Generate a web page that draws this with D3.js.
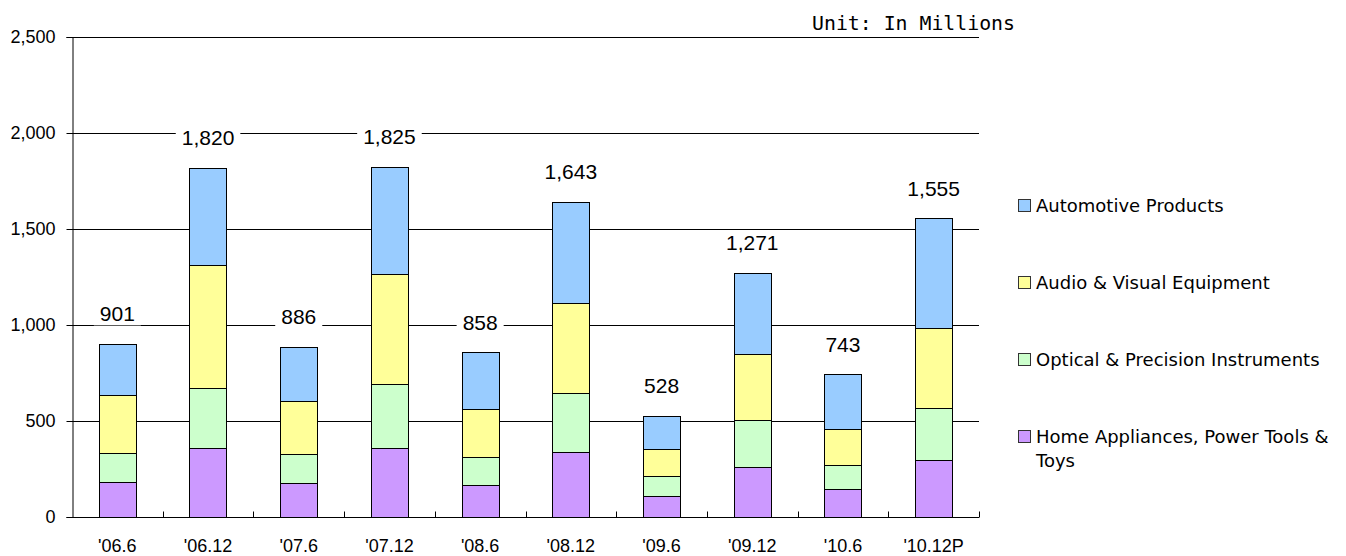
<!DOCTYPE html>
<html>
<head>
    <title>Sales by Product Category</title>
    <script src="https://d3js.org/d3.v7.min.js"></script>
    <style>
        body {
            margin: 0;
            background: #fff;
        }
        svg text {
            font-family: "Liberation Sans", Arial, sans-serif;
            fill: #000;
        }
    </style>
</head>
<body>
    <div id="chart"></div>
    <script>
        // Half-year periods
        const periods = ["'06.6", "'06.12", "'07.6", "'07.12", "'08.6", "'08.12", "'09.6", "'09.12", "'10.6", "'10.12P"];

        // Series values, bottom to top (in millions)
        const homeAppliances = [181, 359, 175, 358, 167, 340, 109, 259, 144, 297];
        const optical = [151, 315, 153, 335, 147, 306, 105, 246, 127, 269];
        const audioVisual = [303, 637, 276, 571, 250, 470, 140, 346, 189, 420];
        const automotive = [266, 509, 282, 561, 294, 527, 174, 420, 283, 569];

        const totals = [901, 1820, 886, 1825, 858, 1643, 528, 1271, 743, 1555];

        const seriesNames = ['Home Appliances, Power Tools & Toys', 'Optical & Precision Instruments',
            'Audio & Visual Equipment', 'Automotive Products'];
        const seriesColors = ['#cc99ff', '#ccffcc', '#ffff99', '#99ccff'];
        const yTicks = [0, 500, 1000, 1500, 2000, 2500];

        const width = 1346, height = 556;
        const margin = { left: 72, right: 367, top: 37, bottom: 39 };

        const svg = d3.select('#chart').append('svg')
            .attr('width', width)
            .attr('height', height);

        const x = d3.scaleBand()
            .domain(periods)
            .range([margin.left, width - margin.right])
            .padding(0);

        const y = d3.scaleLinear()
            .domain([0, 2500])
            .range([height - margin.bottom, margin.top]);

        const barWidth = x.bandwidth() * 0.41;

        // build table for the stack
        const table = periods.map((p, i) => ({
            period: p,
            s0: homeAppliances[i],
            s1: optical[i],
            s2: audioVisual[i],
            s3: automotive[i]
        }));
        const stacked = d3.stack().keys(['s0', 's1', 's2', 's3'])(table);

        // gridlines (including the top border)
        svg.append('g')
            .selectAll('line')
            .data(yTicks.filter(d => d > 0))
            .enter().append('line')
            .attr('x1', margin.left)
            .attr('x2', width - margin.right)
            .attr('y1', d => Math.round(y(d)) + 0.5)
            .attr('y2', d => Math.round(y(d)) + 0.5)
            .attr('stroke', '#000')
            .attr('stroke-width', 1);

        // y axis
        const yAxis = svg.append('g')
            .attr('transform', `translate(${margin.left + 0.5},0)`)
            .call(d3.axisLeft(y).tickValues(yTicks).tickSize(6).tickPadding(11).tickFormat(d3.format(',')));
        yAxis.select('.domain').attr('stroke', '#000');
        yAxis.selectAll('.tick line').attr('stroke', '#000');
        yAxis.selectAll('text').style('font-size', '18px');

        // x axis: ticks at band boundaries, pointing up
        const xAxisG = svg.append('g')
            .attr('transform', `translate(0,${Math.round(y(0)) + 0.5})`);
        xAxisG.append('line')
            .attr('x1', margin.left)
            .attr('x2', width - margin.right)
            .attr('stroke', '#000');
        xAxisG.selectAll('.tk')
            .data(periods)
            .enter().append('line')
            .attr('class', 'tk')
            .attr('x1', d => Math.round(x(d) + x.bandwidth()) + 0.5)
            .attr('x2', d => Math.round(x(d) + x.bandwidth()) + 0.5)
            .attr('y1', 0)
            .attr('y2', -6)
            .attr('stroke', '#000');
        xAxisG.selectAll('text')
            .data(periods)
            .enter().append('text')
            .attr('x', d => x(d) + x.bandwidth() / 2)
            .attr('y', 34)
            .attr('text-anchor', 'middle')
            .style('font-size', '18px')
            .text(d => d);

        // stacked bars
        svg.append('g')
            .selectAll('g')
            .data(stacked)
            .enter().append('g')
            .attr('fill', (d, i) => seriesColors[i])
            .selectAll('rect')
            .data(d => d)
            .enter().append('rect')
            .attr('x', d => Math.round(x(d.data.period) + (x.bandwidth() - barWidth) / 2) + 0.5)
            .attr('y', d => Math.round(y(d[1])) + 0.5)
            .attr('width', Math.round(barWidth))
            .attr('height', d => Math.round(y(d[0])) - Math.round(y(d[1])))
            .attr('stroke', '#000')
            .attr('stroke-width', 1);

        // total labels with white backgrounds over gridlines
        const labels = svg.append('g')
            .selectAll('g')
            .data(totals)
            .enter().append('g')
            .attr('transform', (d, i) => `translate(${x(periods[i]) + x.bandwidth() / 2},${y(d) - 30})`);
        labels.append('text')
            .attr('text-anchor', 'middle')
            .attr('dy', '0.35em')
            .style('font-size', '21px')
            .text(d => d3.format(',')(d));
        labels.each(function() {
            const g = d3.select(this);
            const bb = g.select('text').node().getBBox();
            g.insert('rect', 'text')
                .attr('x', bb.x - 6)
                .attr('y', bb.y)
                .attr('width', bb.width + 12)
                .attr('height', bb.height)
                .attr('fill', '#fff');
        });

        // unit note
        svg.append('text')
            .attr('x', 1015)
            .attr('y', 30)
            .attr('text-anchor', 'end')
            .style('font-family', '"DejaVu Sans Mono", monospace')
            .style('font-size', '20px')
            .attr('textLength', 203)
            .attr('lengthAdjust', 'spacingAndGlyphs')
            .text('Unit: In Millions');

        // legend, top entry is the top of the stack
        const legendOrder = [3, 2, 1, 0];
        const legend = svg.append('g')
            .selectAll('g')
            .data(legendOrder)
            .enter().append('g')
            .attr('transform', (d, i) => `translate(1018,${205 + i * 77})`);
        legend.append('rect')
            .attr('x', 0.5)
            .attr('y', -5.5)
            .attr('width', 12)
            .attr('height', 12)
            .attr('fill', d => seriesColors[d])
            .attr('stroke', '#333');
        legend.each(function(d) {
            const g = d3.select(this);
            const name = seriesNames[d];
            // wrap the long name like the original
            const lines = name.length > 34 ? ['Home Appliances, Power Tools &', 'Toys'] : [name];
            g.append('text')
                .attr('x', 18)
                .attr('y', 6.5)
                .style('font-family', '"DejaVu Sans", sans-serif')
                .style('font-size', '18px')
                .selectAll('tspan')
                .data(lines)
                .enter().append('tspan')
                .attr('x', 18)
                .attr('dy', (l, i) => i === 0 ? 0 : 24)
                .text(l => l);
        });
    </script>
</body>
</html>
